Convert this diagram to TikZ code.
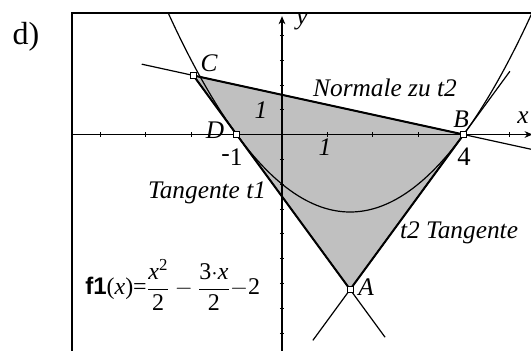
\documentclass[tikz,border=0pt]{standalone}
\usepackage{fontspec}
\setmainfont{Liberation Serif}
\setsansfont{Liberation Sans}
\usetikzlibrary{arrows.meta}
\definecolor{regiongray}{RGB}{192,192,192}
\begin{document}
\begin{tikzpicture}[x=0.75pt,y=-0.75pt,
  lbl/.style={font=\fontsize{19}{22}\selectfont\itshape, inner sep=0pt},
  num/.style={font=\fontsize{19}{22}\selectfont, inner sep=0pt},
  ptbox/.style={draw, fill=white, line width=0.6pt, minimum size=4.2pt, inner sep=0pt, rectangle},
  thinline/.style={line width=0.9pt},
  edgeline/.style={line width=1.5pt},
  axisline/.style={line width=1.1pt},
  tick/.style={line width=0.6pt},
]
\useasboundingbox (0,0) rectangle (531,350);
% frame
\draw[line width=1.9pt] (72,13) rectangle (560,380);
\begin{scope}
\clip (72,13) rectangle (531,350);
\begin{scope}[shift={(282,134.5)}]
\begin{scope}[x=34.05pt,y=18.6pt]
  \coordinate (A) at (1.5,-6.25);
  \coordinate (B) at (4,0);
  \coordinate (C) at (-1.95238,2.38095);
  \coordinate (D) at (-1,0);
  \coordinate (T1e) at (2.27,-8.175);
  \coordinate (T2s) at (0.68,-8.3);
  \coordinate (T2e) at (5.02,2.55);
  \coordinate (Ns) at (-3.09,2.836);
  \coordinate (Ne) at (5.7,-0.68);
  \coordinate (Yb) at (0,-9.5);
  \coordinate (Yt) at (0,4.77);
  \coordinate (Xl) at (-4.7,0);
  \coordinate (Xr) at (5.52,0);
  % shaded region
  \fill[regiongray] (C) -- (B) -- (A) -- (D) -- cycle;
  % axes
  \draw[axisline,-{Stealth[length=6pt,width=5pt]}] (Yb) -- (Yt);
  \draw[axisline,-{Stealth[length=6pt,width=5pt]}] (Xl) -- (Xr);
  \foreach \k in {-4,-3,-2,1,2,3,5}
    \draw[tick] ([yshift=1.6pt]\k,0) -- ([yshift=-1.6pt]\k,0);
  \foreach \k in {-8,...,-1,1,2,3,4}
    \draw[tick] ([xshift=-1.6pt]0,\k) -- ([xshift=1.6pt]0,\k);
  % parabola
  \draw[thinline] plot[domain=-2.7:5.7, samples=120, smooth] (\x, {\x*\x/2-1.5*\x-2});
  % tangents and normal
  \draw[thinline] (C) -- (T1e);
  \draw[thinline] (T2s) -- (T2e);
  \draw[thinline] (Ns) -- (Ne);
  % polygon edges
  \draw[edgeline, line join=round] (C) -- (B) -- (A) -- (D) -- cycle;
  % points
  \node[ptbox] (pA) at (A) {};
  \node[ptbox] (pB) at (B) {};
  \node[ptbox] (pC) at (C) {};
  \node[ptbox] (pD) at (D) {};
\end{scope}
\end{scope}
\end{scope}
% labels
\node[font=\fontsize{24}{28}\selectfont, inner sep=0pt] (lab-d) at (26,37) {d)};
\node[lbl] (lC) at (209,63) {C};
\node[lbl] (lD) at (215,130) {D};
\node[lbl] (lB) at (461,119) {B};
\node[lbl] (lA) at (366,287) {A};
\node[lbl] (lx) at (523,118) {x};
\node[lbl] (ly) at (302,21) {y};
\node[lbl] (ly1) at (261,110) {1};
\node[lbl] (lx1) at (325,147) {1};
\node[num] (lm1) at (232,157) {\raisebox{0.35ex}{-}1};
\node[num, font=\fontsize{20}{23}\selectfont] (l4) at (464,157) {4};
\node[lbl] (lN) at (385,88) {Normale zu t2};
\node[lbl] (lT1) at (207,193) {Tangente t1};
\node[lbl] (lT2) at (459,233) {t2 Tangente};
\node[anchor=west, inner sep=0pt, font=\fontsize{18}{21}\selectfont] (F) at (85,285)
  {{\sffamily\bfseries f1}(\textit{x})=$\displaystyle\frac{\mbox{\textit{x}\textsuperscript{2}}}{\mbox{2}}-\frac{\mbox{3$\cdot$\textit{x}}}{\mbox{2}}-$2};
\end{tikzpicture}
\end{document}
